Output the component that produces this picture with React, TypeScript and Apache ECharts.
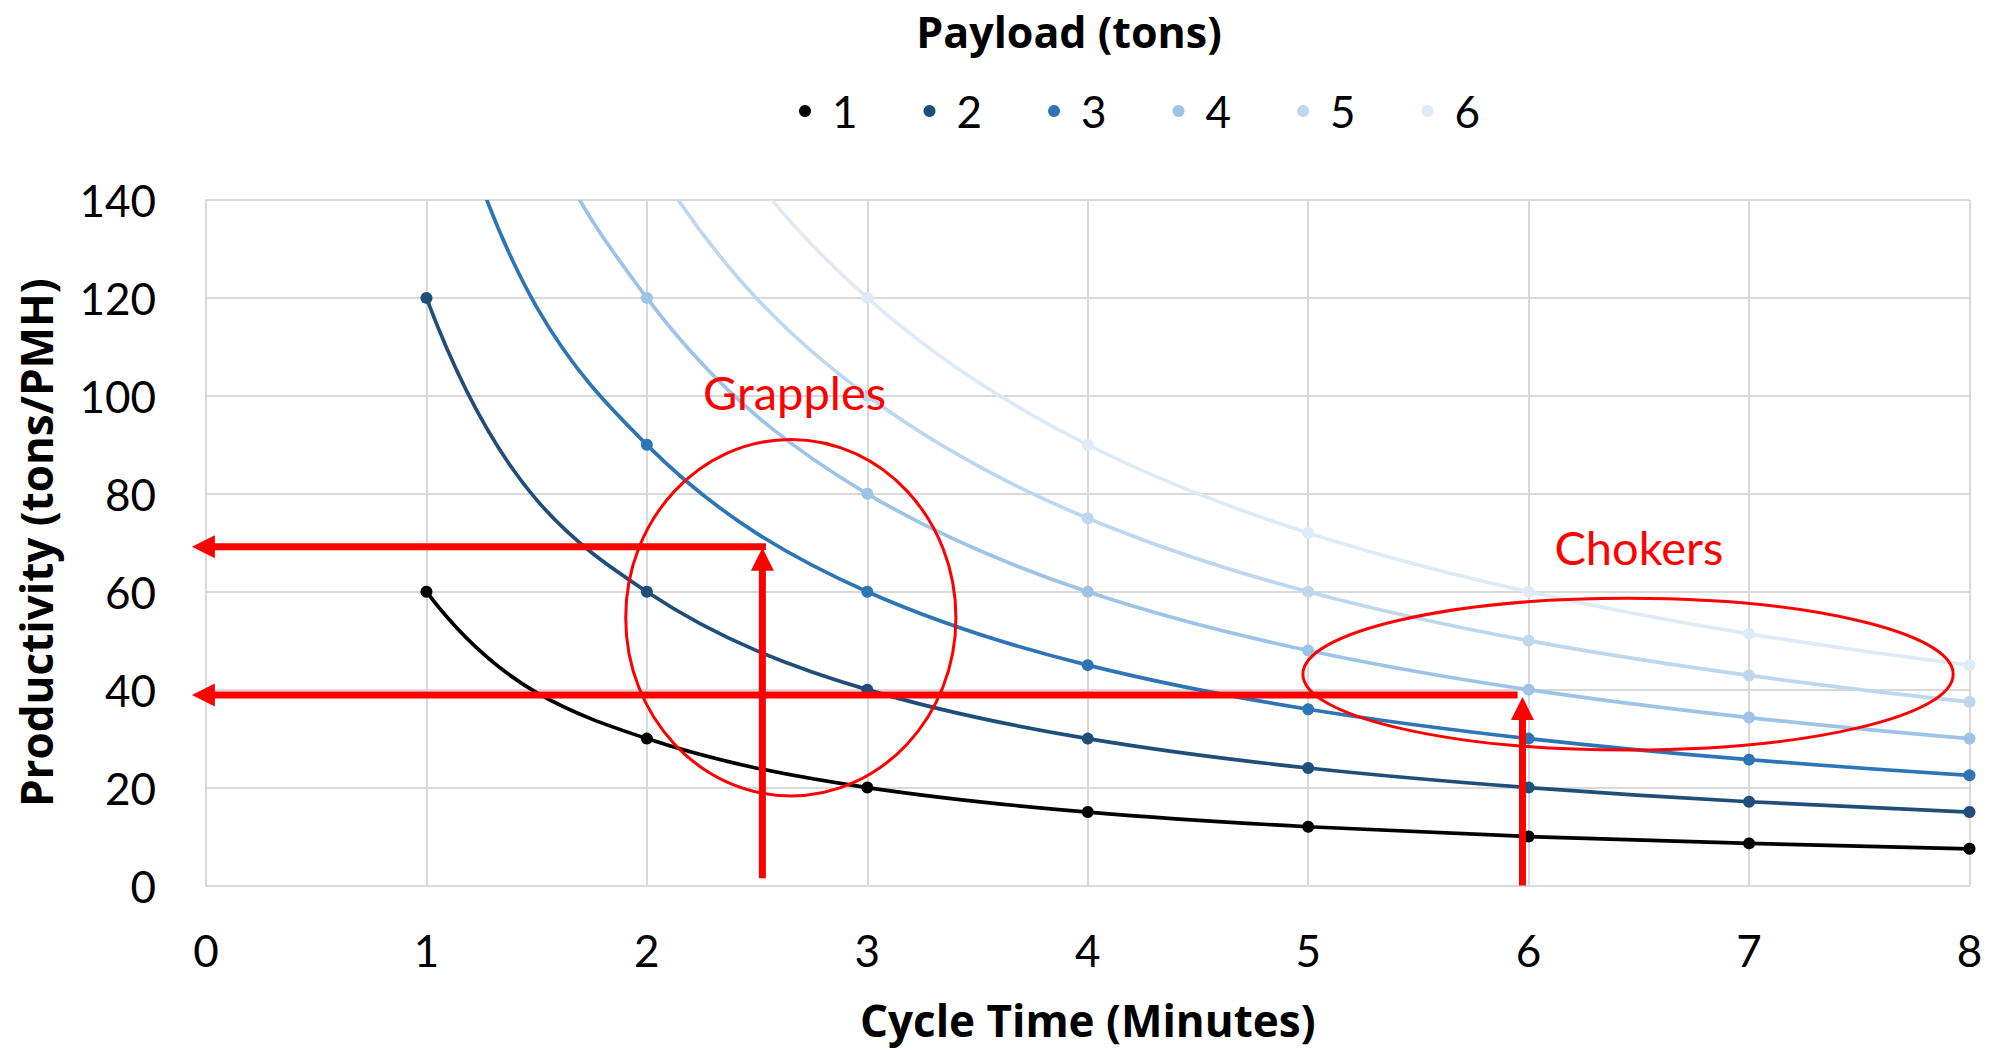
import React, { useEffect, useRef } from "react";
import * as echarts from "echarts";

// ---- data ----
const cycleTimes = [1, 2, 3, 4, 5, 6, 7, 8];
const payloadNames = ["1", "2", "3", "4", "5", "6"];
const payload1 = [60, 30, 20, 15, 12, 10, 8.6, 7.5];
const payload2 = [120, 60, 40, 30, 24, 20, 17.1, 15];
const payload3 = [180, 90, 60, 45, 36, 30, 25.7, 22.5];
const payload4 = [240, 120, 80, 60, 48, 40, 34.3, 30];
const payload5 = [300, 150, 100, 75, 60, 50, 42.9, 37.5];
const payload6 = [360, 180, 120, 90, 72, 60, 51.4, 45];
const payloadValues = [payload1, payload2, payload3, payload4, payload5, payload6];
const seriesColors = ["#000000", "#1f4e79", "#2e75b6", "#9dc3e6", "#bdd7ee", "#deebf7"];

// annotations (data units)
const arrowSegments = [
  [2.524, 1.5, 2.524, 69.0],
  [2.54, 69.2, -0.064, 69.2],
  [5.972, 0, 5.972, 38.5],
  [5.95, 38.9, -0.064, 38.9],
];
const ellipseShapes = [
  [2.653, 54.7, 0.749, 36.4],
  [6.451, 43.16, 1.475, 15.5],
];
const noteLabels = ["Grapples", "Chokers"];
const notePositions = [
  [2.67, 100.7],
  [6.5, 69.1],
];

const FONT = "Lato, 'Open Sans', sans-serif";
const TITLE_FONT = "'Open Sans', Lato, sans-serif";
const RED = "#ff0000";

// smooth curve renderer: cubic Hermite segments (tangents estimated in log-log space)
function curveRenderer(color: string) {
  return (params: any, api: any) => {
    const i = params.dataIndexInside;
    const n = params.dataInsideLength;
    if (i >= n - 1) return { type: "group", children: [] };
    const X = (k: number) => api.value(0, k);
    const Y = (k: number) => api.value(1, k);
    const slope = (k: number) => {
      const a = Math.max(0, k - 1);
      const b = Math.min(n - 1, k + 1);
      const s = (Math.log(Y(b)) - Math.log(Y(a))) / (Math.log(X(b)) - Math.log(X(a)));
      return (s * Y(k)) / X(k);
    };
    const x0 = X(i), y0 = Y(i), x1 = X(i + 1), y1 = Y(i + 1);
    const h = x1 - x0;
    const m0 = slope(i);
    const m1 = slope(i + 1);
    const p0 = api.coord([x0, y0]);
    const p1 = api.coord([x1, y1]);
    const c0 = api.coord([x0 + h / 3, y0 + (m0 * h) / 3]);
    const c1 = api.coord([x1 - h / 3, y1 - (m1 * h) / 3]);
    return {
      type: "bezierCurve",
      shape: {
        x1: p0[0], y1: p0[1],
        x2: p1[0], y2: p1[1],
        cpx1: c0[0], cpy1: c0[1],
        cpx2: c1[0], cpy2: c1[1],
      },
      style: { stroke: color, lineWidth: 3.7, fill: "none" },
    };
  };
}

export default function App() {
  const ref = useRef<HTMLDivElement>(null);
  useEffect(() => {
    if (!ref.current) return;
    const chart = echarts.init(ref.current, undefined, { renderer: "svg" });

    const curveSeries = payloadNames.map((name, si) => ({
      type: "custom",
      name: "curve" + name,
      coordinateSystem: "cartesian2d",
      clip: true,
      silent: true,
      z: 2 + si * 0.01,
      data: cycleTimes.map((t, i) => [t, payloadValues[si][i]]),
      encode: { x: 0, y: 1 },
      renderItem: curveRenderer(seriesColors[si]),
    }));

    const markerSeries = payloadNames.map((name, si) => ({
      type: "line",
      name,
      clip: true,
      symbol: "circle",
      symbolSize: 12,
      showSymbol: true,
      color: seriesColors[si],
      lineStyle: { width: 0, opacity: 0, color: seriesColors[si] },
      itemStyle: { color: seriesColors[si] },
      data: cycleTimes.map((t, i) => [t, payloadValues[si][i]]),
      z: 3,
    }));

    const option: any = {
      animation: false,
      textStyle: { fontFamily: FONT },
      title: {
        text: "Payload (tons)",
        left: 1069,
        top: 8,
        textAlign: "center",
        padding: 0,
        textStyle: {
          fontFamily: TITLE_FONT,
          fontSize: 43,
          fontWeight: "bold",
          color: "#000",
          lineHeight: 46,
        },
      },
      legend: {
        data: payloadNames,
        left: 794,
        top: 80,
        icon: "circle",
        itemWidth: 12,
        itemHeight: 12,
        itemGap: 66,
        textStyle: {
          fontFamily: FONT,
          fontSize: 44,
          color: "#000",
          padding: [0, 0, 0, 16],
          lineHeight: 52,
        },
      },
      grid: { left: 206, right: 25.5, top: 200, bottom: 167.5, containLabel: false },
      xAxis: {
        type: "value",
        min: 0,
        max: 8,
        interval: 1,
        name: "Cycle Time (Minutes)",
        nameLocation: "middle",
        nameGap: 112,
        nameTextStyle: { fontFamily: TITLE_FONT, fontSize: 44, fontWeight: "bold", color: "#000" },
        axisLine: { show: true, lineStyle: { color: "#d9d9d9", width: 2 } },
        axisTick: { show: false },
        axisLabel: { fontFamily: FONT, fontSize: 44, color: "#000", margin: 42 },
        splitLine: { show: true, lineStyle: { color: "#d9d9d9", width: 2 } },
      },
      yAxis: {
        type: "value",
        min: 0,
        max: 140,
        interval: 20,
        name: "Productivity (tons/PMH)",
        nameLocation: "middle",
        nameGap: 148,
        nameTextStyle: { fontFamily: TITLE_FONT, fontSize: 44, fontWeight: "bold", color: "#000" },
        axisLine: { show: true, lineStyle: { color: "#d9d9d9", width: 2 } },
        axisTick: { show: false },
        axisLabel: { fontFamily: FONT, fontSize: 44, color: "#000", margin: 50 },
        splitLine: { show: true, lineStyle: { color: "#d9d9d9", width: 2 } },
      },
      series: [
        ...curveSeries,
        ...markerSeries,
        {
          type: "custom",
          name: "ellipses",
          coordinateSystem: "cartesian2d",
          clip: false,
          silent: true,
          z: 5,
          data: ellipseShapes,
          encode: { x: 0, y: 1 },
          renderItem: (params: any, api: any) => {
            const c = api.coord([api.value(0), api.value(1)]);
            const s = api.size([api.value(2), api.value(3)]);
            return {
              type: "ellipse",
              shape: { cx: c[0], cy: c[1], rx: s[0], ry: s[1] },
              style: { fill: "none", stroke: RED, lineWidth: 3 },
            };
          },
        },
        {
          type: "custom",
          name: "arrows",
          coordinateSystem: "cartesian2d",
          clip: false,
          silent: true,
          z: 6,
          data: arrowSegments,
          encode: { x: [0, 2], y: [1, 3] },
          renderItem: (params: any, api: any) => {
            const p1 = api.coord([api.value(0), api.value(1)]);
            const p2 = api.coord([api.value(2), api.value(3)]);
            const dx = p2[0] - p1[0];
            const dy = p2[1] - p1[1];
            const len = Math.sqrt(dx * dx + dy * dy) || 1;
            const ux = dx / len;
            const uy = dy / len;
            const headLen = 23;
            const headHalf = 11.5;
            const bx = p2[0] - ux * headLen;
            const by = p2[1] - uy * headLen;
            const nx = -uy;
            const ny = ux;
            return {
              type: "group",
              children: [
                {
                  type: "line",
                  shape: { x1: p1[0], y1: p1[1], x2: bx + ux * 1, y2: by + uy * 1 },
                  style: { stroke: RED, lineWidth: 7 },
                },
                {
                  type: "polygon",
                  shape: {
                    points: [
                      [p2[0], p2[1]],
                      [bx + nx * headHalf, by + ny * headHalf],
                      [bx - nx * headHalf, by - ny * headHalf],
                    ],
                  },
                  style: { fill: RED },
                },
              ],
            };
          },
        },
        {
          type: "custom",
          name: "notes",
          coordinateSystem: "cartesian2d",
          clip: false,
          silent: true,
          z: 7,
          data: notePositions,
          encode: { x: 0, y: 1 },
          renderItem: (params: any, api: any) => {
            const c = api.coord([api.value(0), api.value(1)]);
            return {
              type: "text",
              x: c[0],
              y: c[1],
              style: {
                text: noteLabels[params.dataIndex],
                fill: RED,
                fontFamily: FONT,
                fontSize: 47,
                align: "center",
                verticalAlign: "middle",
              },
            };
          },
        },
      ],
    };
    chart.setOption(option);
    return () => chart.dispose();
  }, []);
  return (
    <div
      ref={ref}
      style={{ position: "fixed", left: 0, top: 0, width: 1995, height: 1053, background: "#fff" }}
    />
  );
}
